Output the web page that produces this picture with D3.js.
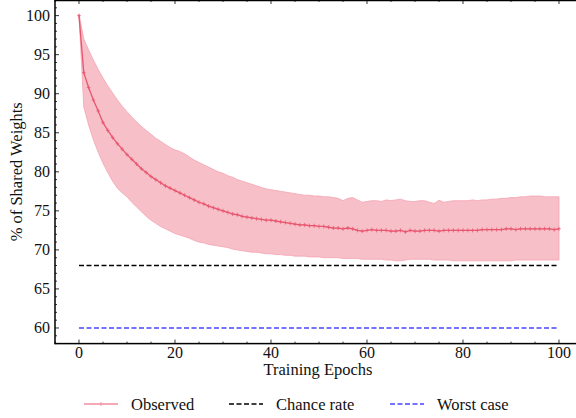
<html>
<head>
<meta charset="utf-8">
<script src="https://cdn.jsdelivr.net/npm/d3@7"></script>
</head>
<body style="margin:0">
<svg id="chart" width="576" height="418"></svg>
<script>
// valeurs, une par epoch (0..100)
const epochs = d3.range(0, 101);

const meanPct = [
  100.0, 92.7, 90.8, 89.2, 87.8, 86.3, 85.3, 84.4, 83.6, 82.9,
  82.2, 81.6, 81.0, 80.4, 79.9, 79.4, 79.0, 78.6, 78.2, 77.9,
  77.6, 77.3, 77.0, 76.7, 76.4, 76.1, 75.9, 75.6, 75.4, 75.2,
  75.0, 74.8, 74.6, 74.5, 74.3, 74.2, 74.1, 74.0, 73.9, 73.8,
  73.8, 73.7, 73.6, 73.5, 73.4, 73.3, 73.2, 73.2, 73.1, 73.1,
  73.0, 73.0, 72.9, 72.8, 72.8, 72.7, 72.8, 72.7, 72.5, 72.4,
  72.5, 72.6, 72.5, 72.5, 72.5, 72.4, 72.4, 72.5, 72.3, 72.5,
  72.4, 72.4, 72.5, 72.5, 72.5, 72.4, 72.5, 72.5, 72.5, 72.5,
  72.5, 72.5, 72.5, 72.5, 72.6, 72.6, 72.6, 72.6, 72.6, 72.7,
  72.7, 72.6, 72.7, 72.7, 72.7, 72.7, 72.7, 72.7, 72.7, 72.6,
  72.7
];

const upperPct = [
  100.2, 97.0, 95.6, 94.3, 93.1, 92.0, 91.0, 90.1, 89.2, 88.4,
  87.7, 87.0, 86.4, 85.8, 85.3, 84.8, 84.3, 83.9, 83.5, 83.1,
  82.8, 82.6, 82.3, 81.9, 81.5, 81.2, 80.9, 80.6, 80.3, 80.0,
  79.8, 79.5, 79.3, 79.0, 78.8, 78.6, 78.4, 78.2, 78.0, 77.8,
  77.7, 77.6, 77.5, 77.4, 77.3, 77.2, 77.1, 77.0, 77.0, 76.9,
  76.9, 76.8, 76.8, 76.7, 76.6, 76.3, 76.6, 76.7, 76.4, 76.1,
  76.2, 76.3, 76.3, 76.2, 76.4, 76.3, 76.4, 76.5, 76.3, 76.2,
  76.2, 76.3, 76.3, 76.1, 75.95, 76.35, 76.1, 76.2, 76.3, 76.3,
  76.3, 76.3, 76.4, 76.3, 76.4, 76.4, 76.5, 76.5, 76.6, 76.6,
  76.7, 76.7, 76.8, 76.8, 76.9, 76.9, 76.9, 76.8, 76.8, 76.8,
  76.8
];

const lowerPct = [
  100.0, 88.3, 86.0, 84.1, 82.5, 81.1, 79.9, 78.8, 77.9, 77.3,
  76.8, 76.1, 75.5, 74.9, 74.3, 73.8, 73.4, 73.0, 72.7, 72.4,
  72.1, 71.9, 71.7, 71.5, 71.2, 71.0, 70.9, 70.7, 70.6, 70.5,
  70.4, 70.3, 70.1, 70.0, 69.9, 69.8, 69.7, 69.7, 69.6, 69.5,
  69.5, 69.4, 69.4, 69.3, 69.3, 69.2, 69.2, 69.2, 69.1, 69.1,
  69.1, 69.0, 69.0, 69.0, 69.0, 68.9, 68.9, 68.9, 68.9, 68.8,
  68.8, 68.8, 68.8, 68.8, 68.7, 68.7, 68.6, 68.6, 68.7, 68.8,
  68.8, 68.8, 68.8, 68.8, 68.7, 68.7, 68.7, 68.7, 68.6, 68.6,
  68.6, 68.6, 68.6, 68.6, 68.6, 68.6, 68.6, 68.6, 68.6, 68.6,
  68.6, 68.7, 68.7, 68.7, 68.7, 68.7, 68.7, 68.7, 68.7, 68.7,
  68.7
];

const chanceRate = 68;
const worstCase = 60;

const xTicks = [0, 20, 40, 60, 80, 100];
const yTicks = [60, 65, 70, 75, 80, 85, 90, 95, 100];
const legendLabels = ["Observed", "Chance rate", "Worst case"];

const svg = d3.select("#chart");

// zone du graphe (le bord droit dépasse un peu l'image, comme sur l'original)
const pLeft = 55, pTop = 0, pRight = 583, pBottom = 343.6;

const scX = d3.scaleLinear().domain([-5, 105]).range([pLeft, pRight]);
const scY = d3.scaleLinear().domain([58, 102]).range([pBottom, pTop]);

const pink = "#e8566f";
const textColor = "#111";
const fontName = "Liberation Serif";

// bande min / max
const area = d3.area()
  .x(i => scX(epochs[i]))
  .y0(i => scY(lowerPct[i]))
  .y1(i => scY(upperPct[i]));

svg.append("path")
  .attr("d", area(epochs.map((d, i) => i)))
  .attr("fill", "#f7bfc8")
  .attr("stroke", "#f4a3b1")
  .attr("stroke-width", 0.8);

// lignes de référence
svg.append("line")
  .attr("x1", scX(0)).attr("x2", scX(100))
  .attr("y1", scY(chanceRate)).attr("y2", scY(chanceRate))
  .attr("stroke", "#000").attr("stroke-width", 1.5)
  .attr("stroke-dasharray", "5,2.5");

svg.append("line")
  .attr("x1", scX(0)).attr("x2", scX(100))
  .attr("y1", scY(worstCase)).attr("y2", scY(worstCase))
  .attr("stroke", "#4646ff").attr("stroke-width", 1.5)
  .attr("stroke-dasharray", "5,2.5");

// courbe moyenne
const lineMaker = d3.line()
  .x(i => scX(epochs[i]))
  .y(i => scY(meanPct[i]));

svg.append("path")
  .attr("d", lineMaker(epochs.map((d, i) => i)))
  .attr("fill", "none")
  .attr("stroke", pink)
  .attr("stroke-width", 1.3);

// marqueurs "+"
svg.append("g")
  .selectAll("path")
  .data(epochs)
  .enter().append("path")
  .attr("d", (d, i) => {
    const cx = scX(d), cy = scY(meanPct[i]);
    return `M${cx - 1.8},${cy}H${cx + 1.8}M${cx},${cy - 2}V${cy + 2}`;
  })
  .attr("stroke", pink)
  .attr("stroke-width", 0.8);

// cadre
svg.append("rect")
  .attr("x", pLeft).attr("y", pTop + 0.5)
  .attr("width", pRight - pLeft).attr("height", pBottom - pTop - 0.5)
  .attr("fill", "none").attr("stroke", "#000").attr("stroke-width", 1.5);

// ticks vers l'intérieur
const tickG = svg.append("g").attr("stroke", "#000");
const xMinor = d3.range(-5, 106, 5);
const yMinor = d3.range(58, 103, 1);

xMinor.forEach(v => {
  const major = xTicks.includes(v);
  const len = major ? 4 : 2;
  tickG.append("line").attr("x1", scX(v)).attr("x2", scX(v))
    .attr("y1", pBottom).attr("y2", pBottom - len).attr("stroke-width", 0.8);
  tickG.append("line").attr("x1", scX(v)).attr("x2", scX(v))
    .attr("y1", pTop).attr("y2", pTop + len).attr("stroke-width", 0.8);
});
yMinor.forEach(v => {
  const major = yTicks.includes(v);
  const len = major ? 4 : 2;
  tickG.append("line").attr("x1", pLeft).attr("x2", pLeft + len)
    .attr("y1", scY(v)).attr("y2", scY(v)).attr("stroke-width", 0.8);
});

// étiquettes
svg.append("g").selectAll("text")
  .data(xTicks).enter().append("text")
  .attr("x", d => scX(d)).attr("y", pBottom + 14)
  .attr("text-anchor", "middle")
  .attr("font-family", fontName)
  .attr("font-size", 16).attr("fill", textColor)
  .text(d => d);

svg.append("g").selectAll("text")
  .data(yTicks).enter().append("text")
  .attr("x", pLeft - 5).attr("y", d => scY(d) + 5)
  .attr("text-anchor", "end")
  .attr("font-family", fontName)
  .attr("font-size", 16).attr("fill", textColor)
  .text(d => d);

svg.append("text")
  .attr("x", 318).attr("y", 375)
  .attr("text-anchor", "middle")
  .attr("font-family", fontName)
  .attr("font-size", 16.5).attr("fill", textColor)
  .text("Training Epochs");

svg.append("text")
  .attr("transform", `translate(22,${(pTop + pBottom) / 2}) rotate(-90)`)
  .attr("text-anchor", "middle")
  .attr("font-family", fontName)
  .attr("font-size", 16.5).attr("fill", textColor)
  .text("% of Shared Weights");

// légende
const legendX = [84, 229, 390];
const legendColors = ["#f28b9c", "#000", "#4646ff"];
const legendY = 404;

legendLabels.forEach((lab, i) => {
  const x0 = legendX[i];
  const l = svg.append("line")
    .attr("x1", x0).attr("x2", x0 + 34)
    .attr("y1", legendY).attr("y2", legendY)
    .attr("stroke", legendColors[i]).attr("stroke-width", 1.5);
  if (i > 0) l.attr("stroke-dasharray", "5,2.5");
  else {
    svg.append("line")
      .attr("x1", x0 + 17).attr("x2", x0 + 17)
      .attr("y1", legendY - 2).attr("y2", legendY + 2)
      .attr("stroke", legendColors[i]).attr("stroke-width", 0.8);
  }
  svg.append("text")
    .attr("x", x0 + 47).attr("y", legendY + 6)
    .attr("font-family", fontName)
    .attr("font-size", 16.5).attr("fill", textColor)
    .text(lab);
});
</script>
</body>
</html>
